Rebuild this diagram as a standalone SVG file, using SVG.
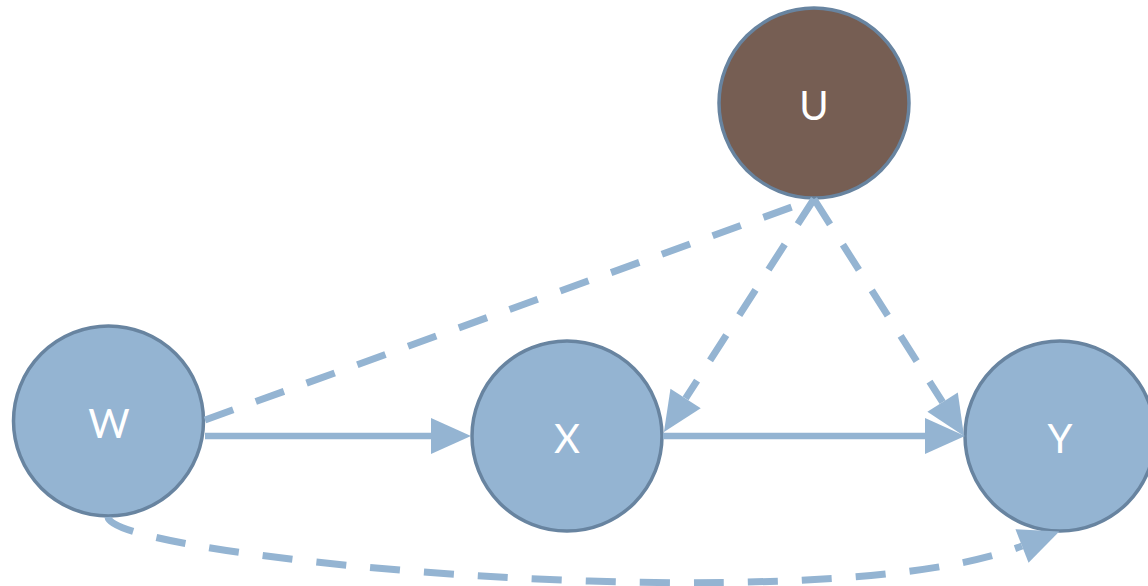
<svg xmlns="http://www.w3.org/2000/svg" width="1148" height="586" viewBox="0 0 1148 586">
<style>
.node{fill:#94b4d2;stroke:#6884a0;stroke-width:3.5}
.u{fill:#765e53;stroke:#6884a0;stroke-width:3.5}
.lbl{fill:#ffffff;font-family:Lato,"Liberation Sans",sans-serif;font-size:40px;font-weight:400;text-anchor:middle}
.e{fill:none;stroke:#94b4d2;stroke-width:6.5}
.d{stroke-width:7;stroke-dasharray:30 24}
</style>
<defs>
<marker id="ah" markerUnits="userSpaceOnUse" markerWidth="42" markerHeight="40" refX="0" refY="18" orient="auto" overflow="visible">
<path d="M0,0 L40,18 L0,36 z" fill="#94b4d2"/>
</marker>
</defs>
<rect width="1148" height="586" fill="#ffffff"/>
<g id="W"><circle class="node" cx="108.5" cy="421" r="95"/><text class="lbl" x="109" y="438">W</text></g>
<g id="X"><circle class="node" cx="567" cy="436" r="95"/><text class="lbl" x="567" y="453">X</text></g>
<g id="Y"><circle class="node" cx="1060" cy="436" r="95"/><text class="lbl" x="1060" y="453">Y</text></g>
<g id="U"><circle class="u" cx="814" cy="103" r="95"/><text class="lbl" x="814" y="120">U</text></g>
<g id="connectors">
<path class="e" d="M205,436 L431,436" marker-end="url(#ah)"/>
<path class="e" d="M663,436 L925,436" marker-end="url(#ah)"/>
<path class="e d" d="M205,420 L814,199"/>
<path class="e d" d="M814,199 L685.6,398.4" marker-end="url(#ah)"/>
<path class="e d" d="M814,199 L942.6,402.2" marker-end="url(#ah)"/>
<path class="e d" d="M108,517 C110,558 820,625 1022,546" marker-end="url(#ah)"/>
</g>
</svg>
